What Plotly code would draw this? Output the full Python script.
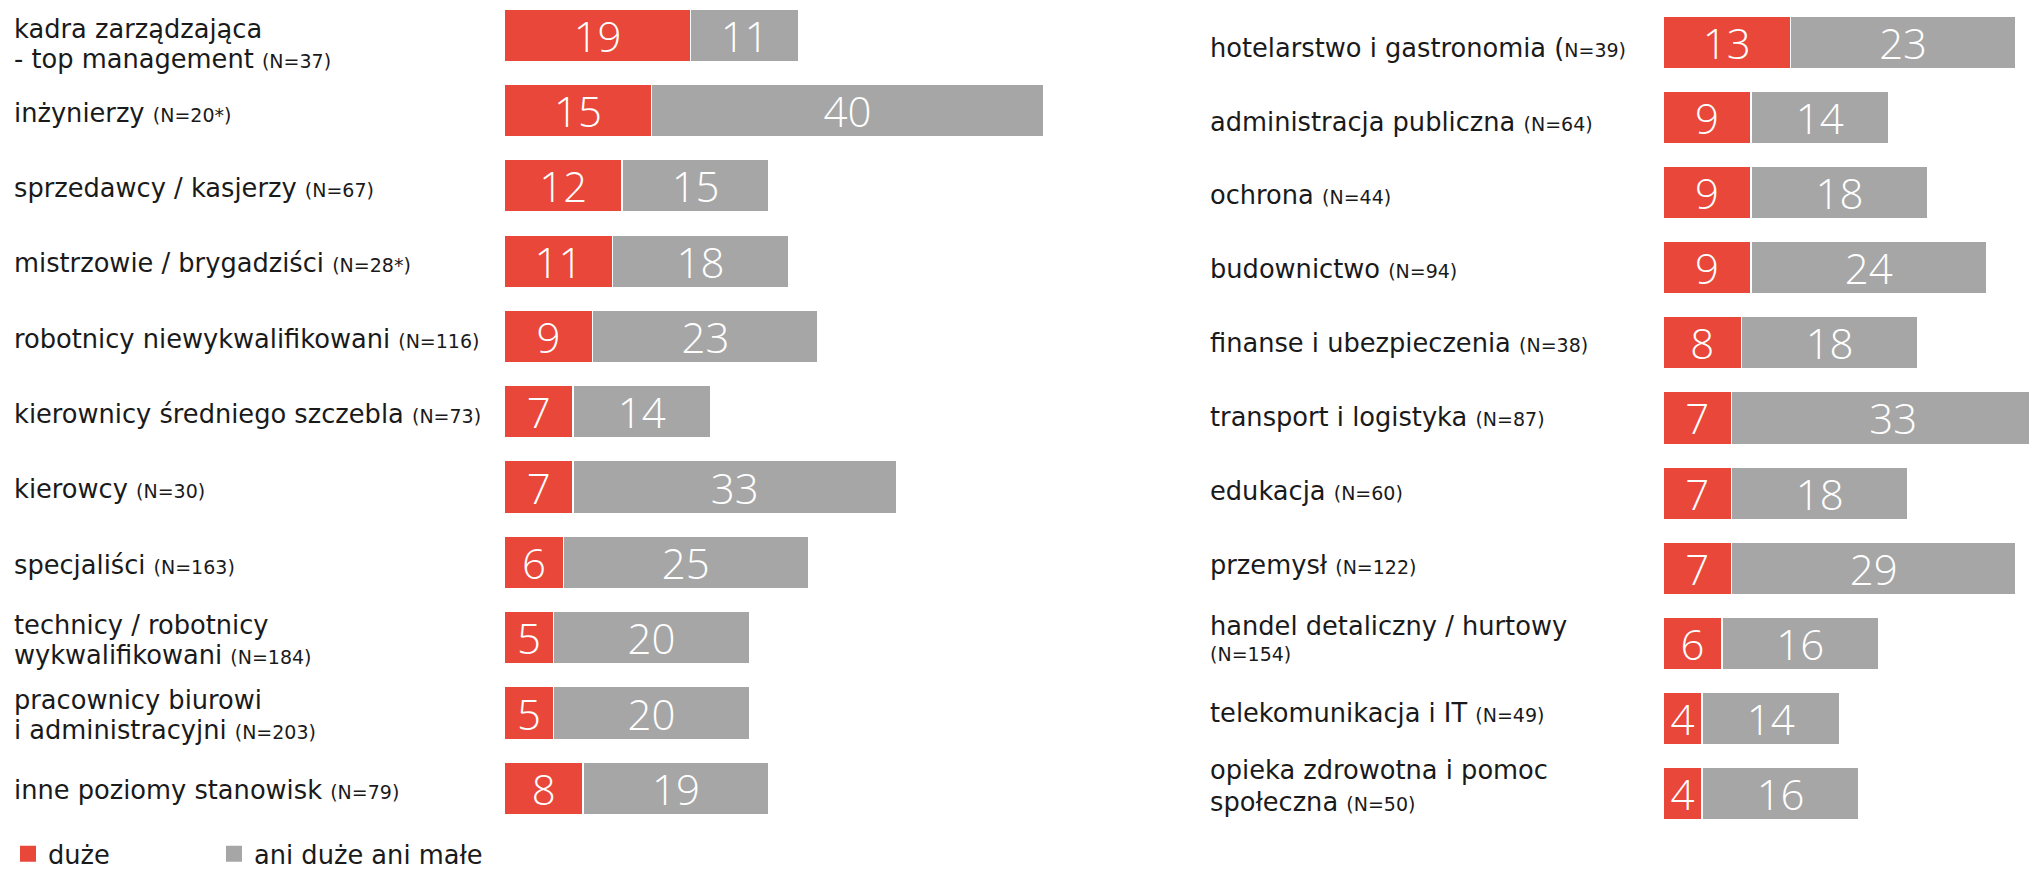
import plotly.graph_objects as go

# ---------------- data ----------------
left_labels = [
    "kadra zarządzająca<br>- top management",
    "inżynierzy",
    "sprzedawcy / kasjerzy",
    "mistrzowie / brygadziści",
    "robotnicy niewykwalifikowani",
    "kierownicy średniego szczebla",
    "kierowcy",
    "specjaliści",
    "technicy / robotnicy<br>wykwalifikowani",
    "pracownicy biurowi<br>i administracyjni",
    "inne poziomy stanowisk",
]
left_n = ["(N=37)", "(N=20*)", "(N=67)", "(N=28*)", "(N=116)", "(N=73)",
          "(N=30)", "(N=163)", "(N=184)", "(N=203)", "(N=79)"]
left_duze = [19, 15, 12, 11, 9, 7, 7, 6, 5, 5, 8]
left_ani = [11, 40, 15, 18, 23, 14, 33, 25, 20, 20, 19]

right_labels = [
    "hotelarstwo i gastronomia (",
    "administracja publiczna",
    "ochrona",
    "budownictwo",
    "finanse i ubezpieczenia",
    "transport i logistyka",
    "edukacja",
    "przemysł",
    "handel detaliczny / hurtowy<br>",
    "telekomunikacja i IT",
    "opieka zdrowotna i pomoc<br>społeczna",
]
right_n = ["N=39)", "(N=64)", "(N=44)", "(N=94)", "(N=38)", "(N=87)",
           "(N=60)", "(N=122)", "(N=154)", "(N=49)", "(N=50)"]
right_duze = [13, 9, 9, 9, 8, 7, 7, 7, 6, 4, 4]
right_ani = [23, 14, 18, 24, 18, 33, 18, 29, 16, 14, 16]

series_names = ["duże", "ani duże ani małe"]

# ---------------- style ----------------
W, H = 2029, 870          # page adds an 8px body margin; bottom runs past the window
RED = "#E8473A"
GRAY = "#A6A6A6"
TXT = "#1a1a1a"
FONT = "DejaVu Sans"
NUM_FONT = "Open Sans"
PX_PER_UNIT = 9.8
LABEL_SIZE = 25.7
N_SIZE = 19

# baseline of a text line sits this far below the centre of its annotation box
MAIN_OFF = (0.928 - 0.582) * LABEL_SIZE
N_OFF = (0.928 - 0.582) * N_SIZE
GLOBAL_DOWN = 4.5

# label baselines relative to the bar centre (px, down = +)
LEFT_SINGLE = 6.5
LEFT_MULTI_MID = 6.3
LEFT_MID_OVERRIDE = {0: 12.8}
LEFT_GAP = 30
RIGHT_BASE0 = 10          # right-panel labels drift up slightly row by row
RIGHT_DRIFT = -1.3
RIGHT_GAP = 32
N_GAP = 26.3

fig = go.Figure()


def add_panel(labels, duze, ani, xa, ya):
    for name, vals, col in ((series_names[0], duze, RED), (series_names[1], ani, GRAY)):
        fig.add_trace(go.Bar(
            y=labels, x=vals, orientation="h", name=name,
            marker=dict(color=col, line=dict(color="white", width=1.5)),
            width=0.7,
            texttemplate="%{x}", textposition="inside", insidetextanchor="middle",
            textangle=0, constraintext="none",
            textfont=dict(family=NUM_FONT, size=42, color="white", weight=300),
            xaxis=xa, yaxis=ya, showlegend=False, hoverinfo="skip",
        ))


add_panel(left_labels, left_duze, left_ani, "x", "y")
add_panel(right_labels, right_duze, right_ani, "x2", "y2")

# legend entries (legend-only markers)
fig.add_trace(go.Scatter(x=[None], y=[None], mode="markers", name=series_names[0],
                         marker=dict(symbol="square", size=16, color=RED),
                         legend="legend", showlegend=True, hoverinfo="skip"))
fig.add_trace(go.Scatter(x=[None], y=[None], mode="markers", name=series_names[1],
                         marker=dict(symbol="square", size=16, color=GRAY),
                         legend="legend2", showlegend=True, hoverinfo="skip"))

annotations = []


def add_label(lab, n, idx, panel):
    sep = "" if (lab.endswith("(") or lab.endswith("<br>")) else " "
    full = f"{lab}{sep}<span style='font-size:{N_SIZE}px'>{n}</span>"
    lines = full.split("<br>")
    n_only = [ln.startswith("<span") for ln in lines]
    if panel == "left":
        default = LEFT_SINGLE if len(lines) == 1 else LEFT_MULTI_MID
        mid = LEFT_MID_OVERRIDE.get(idx, default)
        gap = LEFT_GAP
    else:
        mid = RIGHT_BASE0 + RIGHT_DRIFT * idx
        gap = N_GAP if (len(lines) > 1 and n_only[1]) else RIGHT_GAP
    k = len(lines)
    baselines = [mid + (i - (k - 1) / 2) * gap for i in range(k)]
    xpx = 4 if panel == "left" else 1200
    yref = "y" if panel == "left" else "y2"
    for ln, b, no in zip(lines, baselines, n_only):
        off = N_OFF if no else MAIN_OFF
        annotations.append(dict(
            xref="paper", x=xpx / W, xanchor="left", yref=yref, y=lab, yanchor="middle",
            yshift=off - b - GLOBAL_DOWN, text=ln, showarrow=False, align="left",
            font=dict(family=FONT, size=LABEL_SIZE, color=TXT),
        ))


for i, (lab, n) in enumerate(zip(left_labels, left_n)):
    add_label(lab, n, i, "left")
for i, (lab, n) in enumerate(zip(right_labels, right_n)):
    add_label(lab, n, i, "right")

lx0, lx1 = 496.5, 1142
rx0, rx1 = 1655, W

# bar centres (px from top of figure) and row pitch
L_TOP, L_PITCH = 27.5, 76.1
R_TOP, R_PITCH = 34.5, 75.95

legend_common = dict(orientation="h", xanchor="left", yanchor="bottom", y=-0.01,
                     font=dict(family=FONT, size=LABEL_SIZE, color=TXT),
                     bgcolor="rgba(0,0,0,0)", itemclick=False, itemdoubleclick=False,
                     itemsizing="trace")

fig.update_layout(
    width=W, height=H,
    margin=dict(l=0, r=0, t=0, b=0),
    paper_bgcolor="white", plot_bgcolor="white",
    barmode="stack",
    font=dict(family=FONT, color=TXT),
    xaxis=dict(domain=[lx0 / W, lx1 / W], range=[0, (lx1 - lx0) / PX_PER_UNIT],
               visible=False, anchor="y", fixedrange=True),
    yaxis=dict(domain=[0, 1], type="category", categoryarray=left_labels,
               categoryorder="array",
               range=[(H - L_TOP) / L_PITCH, -L_TOP / L_PITCH],
               visible=False, anchor="x", fixedrange=True),
    xaxis2=dict(domain=[rx0 / W, rx1 / W], range=[0, (rx1 - rx0) / PX_PER_UNIT],
                visible=False, anchor="y2", fixedrange=True),
    yaxis2=dict(domain=[0, 1], type="category", categoryarray=right_labels,
                categoryorder="array",
                range=[(H - R_TOP) / R_PITCH, -R_TOP / R_PITCH],
                visible=False, anchor="x2", fixedrange=True),
    showlegend=True,
    legend=dict(x=0.0, **legend_common),
    legend2=dict(x=206 / W, **legend_common),
    annotations=annotations,
)

fig.write_html("out.html")
